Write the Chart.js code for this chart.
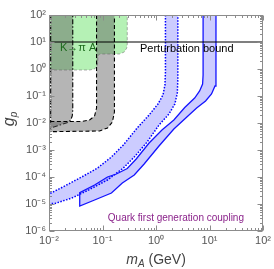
<!DOCTYPE html>
<html>
<head>
<meta charset="utf-8">
<script src="https://cdn.jsdelivr.net/npm/chart.js@4.4.1/dist/chart.umd.min.js"></script>
<style>
  html, body { margin: 0; padding: 0; background: #fff; }
  #wrap { width: 274px; height: 269px; }
</style>
</head>
<body>
<div id="wrap"><canvas id="chart"></canvas></div>
<script>
// axis ticks
const xTicks = [0.01, 0.1, 1, 10, 100];
const yTicks = [1e-6, 1e-5, 1e-4, 1e-3, 1e-2, 1e-1, 1, 10, 100];
const perturbationBound = 10;

// K -> pi A excluded region (green)
const kaonRegion = [[0.01, 100], [0.01, 0.918], [0.0574, 0.918], [0.0711, 1.0], [0.0791, 1.29], [0.0818, 1.82],
  [0.0818, 3.03], [0.088, 3.59], [0.2065, 3.59], [0.255, 4.26], [0.284, 6.0], [0.29, 8.43], [0.29, 100]];

// gray bands
const grayDashDot = [[0.01075, 100], [0.01075, 0.0065], [0.016, 0.0084], [0.0225, 0.0104], [0.0255, 0.0129],
  [0.0272, 0.0182], [0.0278, 0.03], [0.0278, 100]];
const grayDashedInner = [[0.0774, 100], [0.0774, 0.0359], [0.0711, 0.0182], [0.0574, 0.0129], [0.0408, 0.01137], [0.01, 0.01137]];
const grayDashedOuter = [[0.01, 0.00476], [0.088, 0.00506], [0.124, 0.00653], [0.153, 0.0109], [0.167, 0.0255], [0.167, 100]];

// blue band, dotted edges
const dottedUpper = [[1.5, 100], [1.5, 0.774], [1.468, 0.2555], [1.348, 0.1089], [1.089, 0.0506], [0.742, 0.0198],
  [0.4447, 0.00653], [0.2448, 0.00153], [0.1468, 5.5e-4], [0.0808, 2.15e-4], [0.0408, 1e-4], [0.0174, 4.08e-5], [0.01, 2.34e-5]];
const dottedLower = [[0.01, 1.044e-5], [0.0129, 1.044e-5], [0.0267, 1.668e-5], [0.0527, 3.16e-5], [0.1238, 7.74e-5],
  [0.2448, 2.15e-4], [0.4085, 6.0e-4], [0.681, 1.98e-3], [1.136, 8.43e-3], [1.741, 0.0215], [2.248, 0.0506],
  [2.5, 0.1292], [2.555, 0.3914], [2.555, 100]];

// blue band, solid edges
const solidUpper = [[7.58, 100], [7.58, 0.5995], [7.42, 0.278], [6.53, 0.1532], [5.27, 0.0843], [3.44, 0.0375],
  [2.154, 0.0129], [1.291, 5.51e-3], [0.742, 1.816e-3], [0.4264, 4.64e-4], [0.29, 2.07e-4], [0.1816, 1.29e-4],
  [0.1238, 1e-4], [0.0711, 5.06e-5], [0.0375, 2.62e-5]];
const solidLower = [[0.0375, 8.43e-6], [0.0711, 1.407e-5], [0.1468, 2.55e-5], [0.2346, 6.0e-5], [0.3917, 1.187e-4],
  [0.5995, 3.03e-4], [1.136, 1.407e-3], [2.154, 6.0e-3], [3.594, 0.0153], [5.74, 0.0359], [8.43, 0.0653],
  [10.89, 0.1187], [12.65, 0.2346], [13.19, 0.5995], [13.19, 100]];

const FONT = "'Liberation Sans', Arial, sans-serif";
Chart.defaults.font.family = FONT;

const pts = arr => arr.map(p => ({ x: p[0], y: p[1] }));

function supLabel(v) {
  const map = { '-': '⁻', '0': '⁰', '1': '¹', '2': '²', '3': '³', '4': '⁴', '5': '⁵', '6': '⁶', '7': '⁷', '8': '⁸', '9': '⁹' };
  const e = String(Math.round(Math.log10(v)));
  return '10' + e.split('').map(c => map[c]).join('');
}

const shape = (data, fillColor, lineColor, dash, width) => ({
  data: pts(data),
  showLine: true,
  fill: 'shape',
  backgroundColor: fillColor,
  borderColor: lineColor,
  borderDash: dash,
  borderWidth: width,
  pointRadius: 0,
  tension: 0
});

const datasets = [
  {
    data: pts([[0.01, perturbationBound], [100, perturbationBound]]),
    showLine: true, fill: false, borderColor: '#000', borderWidth: 1.2, pointRadius: 0
  },
  shape(solidUpper.concat(solidLower), 'rgba(0,0,255,0.2)', '#1414ff', [], 1.3),
  shape(dottedUpper.concat(dottedLower), 'rgba(0,0,255,0.2)', '#0000ff', [1.5, 1.5], 1.5),
  shape(grayDashedInner.concat(grayDashedOuter), 'rgba(90,90,90,0.45)', '#000', [4, 2.5], 1.1),
  shape(grayDashDot, 'rgba(90,90,90,0.45)', '#000', [5, 2, 1.5, 2], 1.1),
  shape(kaonRegion, 'rgba(120,230,120,0.55)', 'rgba(110,110,110,0.55)', [3, 2], 1)
];

const decorations = {
  id: 'decorations',
  afterDatasetsDraw(chart) {
    const { ctx, chartArea: a, scales: { x, y } } = chart;
    ctx.save();
    // frame
    ctx.strokeStyle = '#8c8c8c';
    ctx.lineWidth = 1;
    const L = Math.round(a.left) + 0.5, R = Math.round(a.right) - 0.5;
    const T = Math.round(a.top) + 0.5, B = Math.round(a.bottom) - 0.5;
    ctx.strokeRect(L, T, R - L, B - T);
    // inward ticks on all sides
    ctx.beginPath();
    for (let d = -2; d <= 2; d++) {
      for (let k = 1; k <= 9; k++) {
        const v = k * Math.pow(10, d);
        if (v > 100.0001) break;
        const px = Math.round(x.getPixelForValue(v)) + 0.5;
        const len = k === 1 ? 5 : 2.5;
        ctx.moveTo(px, B); ctx.lineTo(px, B - len);
        ctx.moveTo(px, T); ctx.lineTo(px, T + len);
      }
    }
    for (let d = -6; d <= 2; d++) {
      for (let k = 1; k <= 9; k++) {
        const v = k * Math.pow(10, d);
        if (v > 100.0001) break;
        const py = Math.round(y.getPixelForValue(v)) + 0.5;
        const len = k === 1 ? 5 : 2.5;
        ctx.moveTo(L, py); ctx.lineTo(L + len, py);
        ctx.moveTo(R, py); ctx.lineTo(R - len, py);
      }
    }
    ctx.stroke();

    // annotations
    ctx.textAlign = 'center';
    ctx.textBaseline = 'top';
    ctx.fillStyle = '#000';
    ctx.font = '11px ' + FONT;
    ctx.fillText('Perturbation bound', x.getPixelForValue(3.75), y.getPixelForValue(perturbationBound) + 1);

    ctx.textBaseline = 'middle';
    ctx.fillStyle = '#1c6a1c';
    ctx.font = '11px ' + FONT;
    ctx.fillText('K→π A', x.getPixelForValue(0.035), y.getPixelForValue(6.25));

    ctx.fillStyle = '#8b238b';
    ctx.font = '10px ' + FONT;
    ctx.fillText('Quark first generation coupling', x.getPixelForValue(2.35), y.getPixelForValue(3e-6));

    // axis titles
    ctx.fillStyle = '#444';
    ctx.textBaseline = 'alphabetic';
    ctx.textAlign = 'left';
    const m = 'm', sub = 'A', rest = ' (GeV)';
    ctx.font = 'italic 14px ' + FONT;
    const wm = ctx.measureText(m).width;
    ctx.font = 'italic 10px ' + FONT;
    const ws = ctx.measureText(sub).width;
    ctx.font = '14px ' + FONT;
    const wr = ctx.measureText(rest).width;
    let tx = (a.left + a.right) / 2 - (wm + ws + wr) / 2;
    const ty = 264;
    ctx.font = 'italic 14px ' + FONT; ctx.fillText(m, tx, ty); tx += wm;
    ctx.font = 'italic 10px ' + FONT; ctx.fillText(sub, tx, ty + 3); tx += ws;
    ctx.font = '14px ' + FONT; ctx.fillText(rest, tx, ty);

    ctx.translate(14, (a.top + a.bottom) / 2 - 4);
    ctx.rotate(-Math.PI / 2);
    ctx.font = 'italic 16px ' + FONT;
    const wg = ctx.measureText('g').width;
    ctx.font = 'italic 10px ' + FONT;
    const wp = ctx.measureText('p').width;
    let gx = -(wg + wp) / 2;
    ctx.font = 'italic 16px ' + FONT; ctx.fillText('g', gx, 0);
    ctx.font = 'italic 10px ' + FONT; ctx.fillText('p', gx + wg, 3);
    ctx.restore();
  }
};

new Chart(document.getElementById('chart'), {
  type: 'scatter',
  data: { datasets },
  options: {
    responsive: true,
    maintainAspectRatio: false,
    animation: false,
    layout: { padding: { top: 15, right: 9, left: 0, bottom: 0 } },
    plugins: { legend: { display: false }, tooltip: { enabled: false } },
    scales: {
      x: {
        type: 'logarithmic', min: 0.01, max: 100,
        grid: { display: false, drawTicks: false },
        border: { display: false },
        afterFit: s => { s.height = 38; },
        afterBuildTicks: s => { s.ticks = xTicks.map(v => ({ value: v })); },
        ticks: { callback: v => supLabel(v), color: '#555', font: { size: 11 }, padding: 3, maxRotation: 0, autoSkip: false }
      },
      y: {
        type: 'logarithmic', min: 1e-6, max: 100,
        grid: { display: false, drawTicks: false },
        border: { display: false },
        afterFit: s => { s.width = 49; },
        afterBuildTicks: s => { s.ticks = yTicks.map(v => ({ value: v })); },
        ticks: { callback: v => supLabel(v), color: '#555', font: { size: 11 }, padding: 3, autoSkip: false }
      }
    }
  },
  plugins: [decorations]
});
</script>
</body>
</html>
